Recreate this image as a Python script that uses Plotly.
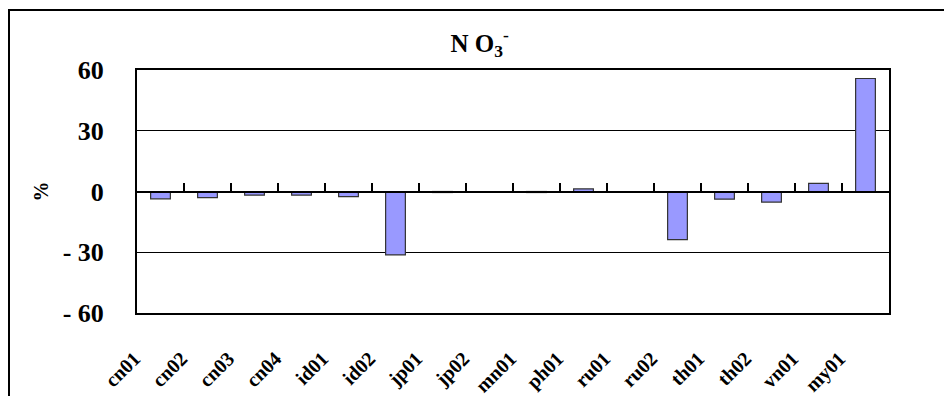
import plotly.graph_objects as go

# Sites and NO3- change (%)
sites = ["cn01", "cn02", "cn03", "cn04", "id01", "id02", "jp01", "jp02",
         "mn01", "ph01", "ru01", "ru02", "th01", "th02", "vn01", "my01"]
change_pct = [-3.6, -3.0, -1.8, -1.8, -2.5, -31.3, -0.5, 0.0,
              -0.5, 1.3, 0.0, -23.8, -3.8, -5.2, 4.0, 55.8]

y_tickvals = [-60, -30, 0, 30, 60]
y_ticktext = ["- 60", "- 30", "0", "30", "60"]

SERIF = "Liberation Serif, Times New Roman, serif"

fig = go.Figure()

fig.add_trace(go.Bar(
    x=sites, y=change_pct,
    marker=dict(color="#9999FF", line=dict(color="#333333", width=1.2)),
    xaxis="x", yaxis="y",
    hoverinfo="x+y",
))

# invisible companion trace that carries the category ticks on the zero line
fig.add_trace(go.Scatter(
    x=sites, y=[0] * len(sites),
    mode="markers", marker=dict(opacity=0),
    xaxis="x2", yaxis="y", hoverinfo="skip", showlegend=False,
))

cat_range = [-0.5, len(sites) - 0.5]

fig.update_layout(
    width=944, height=396,
    margin=dict(l=137, r=55, t=70, b=83, autoexpand=False),
    paper_bgcolor="white", plot_bgcolor="white",
    showlegend=False,
    bargap=0.58,
    title=dict(
        text="<b>N O<sub>3</sub><sup>-</sup></b>",
        x=0.508, xanchor="center", xref="container",
        y=1 - 43 / 396, yanchor="middle", yref="container",
        font=dict(family=SERIF, size=25, color="black"),
    ),
    xaxis=dict(
        type="category", categoryorder="array", categoryarray=sites,
        range=cat_range, autorange=False, automargin=False,
        showline=True, mirror=True, linecolor="black", linewidth=2,
        showgrid=False, ticks="",
        tickangle=-45,
        ticklabelstandoff=24, ticklabelshift=-26,
        tickfont=dict(family=SERIF, size=20, color="black", weight="bold"),
    ),
    xaxis2=dict(
        type="category", categoryorder="array", categoryarray=sites,
        overlaying="x", matches="x", anchor="free", position=0.5,
        range=cat_range, autorange=False, automargin=False,
        showline=True, linecolor="black", linewidth=1.5,
        ticks="inside", tickson="boundaries", ticklen=8,
        tickwidth=1.5, tickcolor="black",
        showticklabels=False, showgrid=False,
    ),
    yaxis=dict(
        range=[-60, 60], automargin=False,
        tickvals=y_tickvals, ticktext=y_ticktext,
        showline=True, mirror=True, linecolor="black", linewidth=2,
        showgrid=True, gridcolor="black", gridwidth=1,
        zeroline=False, ticks="",
        ticklabelstandoff=26,
        tickfont=dict(family=SERIF, size=26, color="black", weight="bold"),
        title=dict(text="<b>%</b>", standoff=9,
                   font=dict(family=SERIF, size=20, color="black")),
    ),
    shapes=[
        # outer chart frame, open towards the right and bottom page edges
        dict(type="rect", xref="paper", yref="paper",
             x0=(9 - 137) / 752, x1=(960 - 137) / 752,
             y0=(313 - 410) / 243, y1=(313 - 10) / 243,
             line=dict(color="black", width=2), fillcolor="rgba(0,0,0,0)",
             layer="below"),
    ],
)

fig.write_html("out.html")
